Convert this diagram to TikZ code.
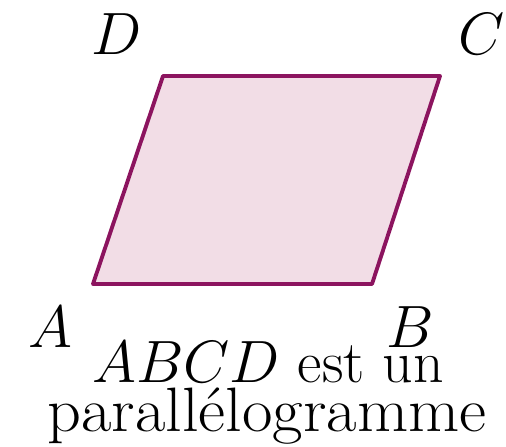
\documentclass[tikz,border=0pt]{standalone}
\usepackage{fix-cm}
\usepackage{tikz}
\definecolor{myedge}{RGB}{140,20,95}
\definecolor{myfill}{RGB}{242,221,230}
\tikzset{
  pt/.style={font=\fontsize{34}{36}\selectfont, anchor=base, inner sep=0pt},
  legend/.style={font=\fontsize{34}{36}\selectfont, anchor=base, inner sep=0pt}
}
\begin{document}
\begin{tikzpicture}[x=0.02cm, y=-0.02cm]
  \useasboundingbox (0,0) rectangle (506,446);
  % Vertices
  \coordinate (A) at (93,284);
  \coordinate (B) at (372,284);
  \coordinate (C) at (440,76);
  \coordinate (D) at (163,76);

  % Parallelogram
  \draw[draw=myedge, fill=myfill, line width=2.2pt, line join=round] (A) -- (B) -- (C) -- (D) -- cycle;

  % Labels
  \node (LA) at (50,347) [pt] {$A$};
  \node (LB) at (410,347) [pt] {$B$};
  \node (LC) at (482,54) [pt] {$C$};
  \node (LD) at (117,54) [pt] {$D$};

  % Caption
  \node (T1) at (268,382) [legend] {$ABCD$ est un};
  \node (T2) at (267,431) [legend] {\scalebox{1.11}[1.05]{parallélogramme}};
\end{tikzpicture}
\end{document}
